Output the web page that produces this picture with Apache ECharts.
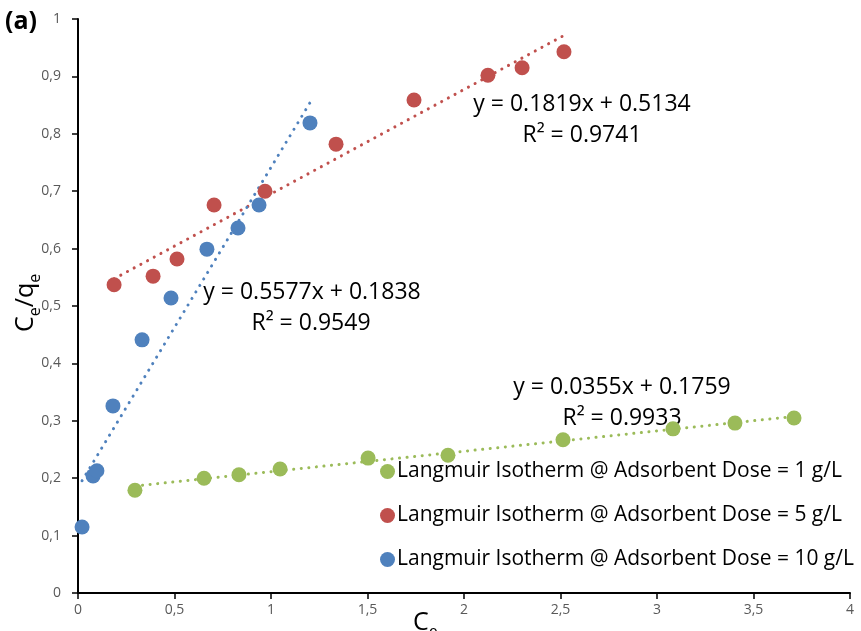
<!DOCTYPE html>
<html><head><meta charset="utf-8">
<script src="https://cdn.jsdelivr.net/npm/echarts@6/dist/echarts.min.js"></script>
<style>html,body{margin:0;padding:0;background:#fff}#c{width:861px;height:631px}</style>
</head><body><div id="c"></div>
<script>
// Data
const greenX = [0.295, 0.653, 0.834, 1.047, 1.503, 1.917, 2.513, 3.083, 3.404, 3.710];
const greenY = [0.179, 0.200, 0.206, 0.216, 0.235, 0.240, 0.267, 0.286, 0.296, 0.305];
const redX = [0.187, 0.389, 0.513, 0.705, 0.969, 1.337, 1.741, 2.124, 2.301, 2.518];
const redY = [0.537, 0.552, 0.582, 0.676, 0.700, 0.782, 0.859, 0.902, 0.915, 0.943];
const blueX = [0.021, 0.078, 0.098, 0.181, 0.332, 0.482, 0.668, 0.829, 0.938, 1.202];
const blueY = [0.115, 0.204, 0.213, 0.326, 0.441, 0.514, 0.599, 0.636, 0.676, 0.819];
const seriesNames = ['Langmuir Isotherm @ Adsorbent Dose = 1 g/L','Langmuir Isotherm @ Adsorbent Dose = 5 g/L','Langmuir Isotherm @ Adsorbent Dose = 10 g/L'];
const slopes = [0.0355, 0.1819, 0.5577];
const intercepts = [0.1759, 0.5134, 0.1838];
const r2 = ['0.9933', '0.9741', '0.9549'];
const colors = ['#9BBB59', '#C0504D', '#4F81BD'];

const xs = [greenX, redX, blueX], ys = [greenY, redY, blueY];
const fmt = v => String(v).replace('.', ',');
const font = 'Open Sans';

const series = [];
for (let i = 0; i < 3; i++) {
  const lo = Math.min(...xs[i]), hi = Math.max(...xs[i]);
  series.push({
    type: 'line', name: 'trend' + i, silent: true, symbol: 'none', z: 2,
    data: [[lo, slopes[i]*lo + intercepts[i]], [hi, slopes[i]*hi + intercepts[i]]],
    lineStyle: {color: colors[i], width: 3, type: [0.1, 7.5], cap: 'round'}
  });
}
for (let i = 0; i < 3; i++) {
  series.push({
    type: 'scatter', name: seriesNames[i], symbol: 'circle', symbolSize: 15, z: 3,
    itemStyle: {color: colors[i], opacity: 1},
    data: xs[i].map((x, k) => [x, ys[i][k]])
  });
}

const chart = echarts.init(document.getElementById('c'), null, {renderer: 'canvas'});
const eqStyle = {fontSize: 23, fontFamily: font, fill: '#000', textAlign: 'center', textVerticalAlign: 'middle'};
const rich = {
  b: {fontSize: 25, fontFamily: font, fill: '#000', lineHeight: 32, verticalAlign: 'bottom'},
  s: {fontSize: 16, fontFamily: font, fill: '#000', lineHeight: 32, verticalAlign: 'bottom', padding: [0,0,-5,0]}
};
chart.setOption({
  animation: false,
  backgroundColor: '#fff',
  grid: {left: 78, right: 11, top: 19, bottom: 38},
  xAxis: {
    type: 'value', min: 0, max: 4, interval: 0.5,
    axisLine: {lineStyle: {color: '#000', width: 2}},
    axisTick: {show: true, length: 6, lineStyle: {color: '#000', width: 1.5}},
    axisLabel: {formatter: fmt, color: '#595959', fontSize: 14, fontFamily: font, margin: 10},
    splitLine: {show: false}
  },
  yAxis: {
    type: 'value', min: 0, max: 1, interval: 0.1,
    axisLine: {show: true, lineStyle: {color: '#000', width: 2}},
    axisTick: {show: true, length: 6, lineStyle: {color: '#000', width: 1.5}},
    axisLabel: {formatter: v => fmt(Math.round(v*10)/10), color: '#595959', fontSize: 14, fontFamily: font, margin: 17},
    splitLine: {show: false}
  },
  legend: {
    data: seriesNames, orient: 'vertical', left: 375, top: 452, itemGap: 15,
    icon: 'circle', itemWidth: 15, itemHeight: 15,
    textStyle: {fontSize: 21, fontFamily: font, color: '#000', padding: [0,0,0,-3], lineHeight: 29}
  },
  graphic: [
    {type: 'text', left: 5, top: 9, style: {text: '(a)', fontSize: 25, fontWeight: 'bold', fontFamily: font, fill: '#000'}},
    {type: 'text', x: 312, y: 292, style: Object.assign({text: 'y = ' + slopes[2] + 'x + ' + intercepts[2]}, eqStyle)},
    {type: 'text', x: 311, y: 323, style: Object.assign({text: 'R² = ' + r2[2]}, eqStyle)},
    {type: 'text', x: 582, y: 104, style: Object.assign({text: 'y = ' + slopes[1] + 'x + ' + intercepts[1]}, eqStyle)},
    {type: 'text', x: 582, y: 135, style: Object.assign({text: 'R² = ' + r2[1]}, eqStyle)},
    {type: 'text', x: 622, y: 387, style: Object.assign({text: 'y = ' + slopes[0] + 'x + ' + intercepts[0]}, eqStyle)},
    {type: 'text', x: 622, y: 418, style: Object.assign({text: 'R² = ' + r2[0]}, eqStyle)},
    {type: 'text', x: 6, y: 332, rotation: Math.PI/2, style: {text: '{b|C}{s|e}{b|/q}{s|e}', fontFamily: font, rich: rich}},
    {type: 'text', x: 413, y: 603, style: {text: '{b|C}{s|e}', fontFamily: font, rich: rich}}
  ],
  series: series
});
</script></body></html>
